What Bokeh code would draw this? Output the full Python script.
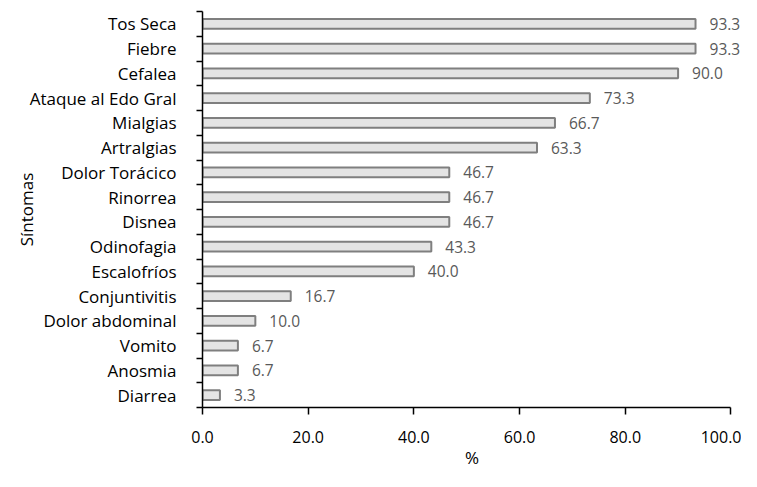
from bokeh.plotting import figure
from bokeh.models import FixedTicker, ColumnDataSource, Range1d
from bokeh.core.properties import value
from bokeh.embed import file_html
from bokeh.resources import INLINE

sintomas = ["Tos Seca", "Fiebre", "Cefalea", "Ataque al Edo Gral", "Mialgias", "Artralgias",
            "Dolor Torácico", "Rinorrea", "Disnea", "Odinofagia", "Escalofríos", "Conjuntivitis",
            "Dolor abdominal", "Vomito", "Anosmia", "Diarrea"]
porcentaje = [93.3, 93.3, 90.0, 73.3, 66.7, 63.3, 46.7, 46.7, 46.7, 43.3, 40.0, 16.7, 10.0, 6.7, 6.7, 3.3]
x_ticks = [0, 20, 40, 60, 80, 100]

n = len(sintomas)
ypos = [n - 1 - i + 0.5 for i in range(n)]
src = ColumnDataSource(dict(y=ypos, v=porcentaje, lab=["%.1f" % v for v in porcentaje]))

FONT = "Open Sans"
p = figure(width=741, height=471, output_backend="svg", toolbar_location=None,
           x_range=Range1d(0, 102), y_range=Range1d(0, n),
           min_border_left=202, min_border_right=0, min_border_top=11, min_border_bottom=56)
p.outline_line_color = None
p.xgrid.visible = False
p.ygrid.visible = False

p.hbar(y="y", right="v", left=0, height=0.4, source=src, fill_color="#e4e4e4",
       line_color="#7f7f7f", line_width=2)
p.text(x="v", y="y", text="lab", source=src, x_offset=14, text_baseline="middle",
       text_align="left", text_color="#595959", text_font_size="15.5px", text_font=value(FONT))

yt = FixedTicker(ticks=ypos, minor_ticks=list(range(n + 1)))
p.yaxis.ticker = yt
p.yaxis.major_label_overrides = {y: s for y, s in zip(ypos, sintomas)}
p.yaxis.major_tick_line_color = None
p.yaxis.major_tick_out = 0
p.yaxis.major_tick_in = 0
p.yaxis.minor_tick_out = 6
p.yaxis.minor_tick_in = 0
p.yaxis.minor_tick_line_color = "black"
p.yaxis.minor_tick_line_width = 1.5
p.yaxis.major_label_standoff = 20
p.yaxis.major_label_text_font_size = "17px"
p.yaxis.axis_label = "Síntomas"
p.yaxis.axis_label_standoff = -11

p.xaxis.ticker = FixedTicker(ticks=x_ticks, minor_ticks=[])
p.xaxis.bounds = (0, 100)
p.xaxis.major_label_overrides = {t: "%.1f" % t for t in x_ticks}
p.xaxis.major_tick_out = 7
p.xaxis.major_tick_in = 0
p.xaxis.major_tick_line_width = 1.5
p.xaxis.major_label_standoff = 16
p.xaxis.major_label_text_font_size = "16px"
p.xaxis.axis_label = "%"
p.xaxis.axis_label_standoff = 0

for ax in (p.xaxis, p.yaxis):
    ax.axis_line_color = "black"
    ax.axis_line_width = 1.5
    ax.major_label_text_font = FONT
    ax.major_label_text_color = "black"
    ax.axis_label_text_font = FONT
    ax.axis_label_text_font_size = "17px"
    ax.axis_label_text_font_style = "normal"
    ax.axis_label_text_color = "black"

open("out.html", "w").write(file_html(p, INLINE))
